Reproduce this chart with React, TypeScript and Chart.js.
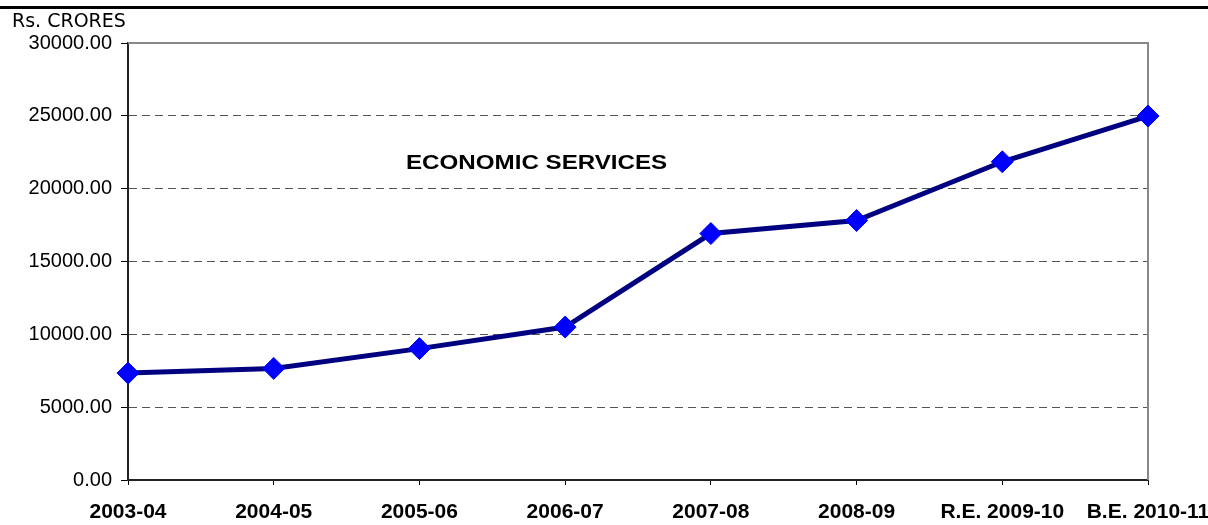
import React, { useEffect, useRef } from "react";
import { Chart, registerables } from "chart.js";

Chart.register(...registerables);

const categories: string[] = [
  "2003-04",
  "2004-05",
  "2005-06",
  "2006-07",
  "2007-08",
  "2008-09",
  "R.E. 2009-10",
  "B.E. 2010-11",
];

const economicServices: number[] = [7340, 7660, 9020, 10500, 16920, 17815, 21845, 24985];

const yMin = 0;
const yMax = 30000;
const yStep = 5000;

const titleText = "ECONOMIC SERVICES";
const unitText = "Rs. CRORES";

const decorPlugin = {
  id: "decor",
  beforeDatasetsDraw(chart: any) {
    const { ctx, chartArea } = chart;
    ctx.save();
    ctx.strokeStyle = "#888888";
    ctx.lineWidth = 2;
    ctx.beginPath();
    ctx.moveTo(chartArea.left, chartArea.top);
    ctx.lineTo(chartArea.right, chartArea.top);
    ctx.lineTo(chartArea.right, chartArea.bottom);
    ctx.stroke();
    ctx.restore();
  },
  afterDraw(chart: any) {
    const { ctx } = chart;
    ctx.save();
    ctx.fillStyle = "#000000";
    ctx.fillRect(0, 6, chart.width, 3);
    ctx.font = '19px "DejaVu Sans", sans-serif';
    ctx.textAlign = "left";
    ctx.textBaseline = "alphabetic";
    ctx.fillText(unitText, 12, 27);
    ctx.translate(406, 169);
    ctx.scale(1.15, 1);
    ctx.font = 'bold 21px "Liberation Sans", Arial, sans-serif';
    ctx.fillText(titleText, 0, 0);
    ctx.restore();
  },
};

export default function App() {
  const ref = useRef<HTMLCanvasElement | null>(null);

  useEffect(() => {
    if (!ref.current) return;
    const chart = new Chart(ref.current, {
      type: "line",
      data: {
        labels: categories,
        datasets: [
          {
            label: titleText,
            data: economicServices,
            borderColor: "#000080",
            borderWidth: 5,
            tension: 0,
            pointStyle: "rectRot",
            pointRadius: 11,
            pointHoverRadius: 11,
            pointBackgroundColor: "#0000FF",
            pointBorderColor: "#0000FF",
            pointBorderWidth: 1,
            clip: false as any,
          },
        ],
      },
      options: {
        animation: false,
        responsive: false,
        devicePixelRatio: 1,
        layout: { padding: { top: 43, right: 60, bottom: 0, left: 0 } },
        plugins: {
          legend: { display: false },
          tooltip: { enabled: false },
          title: { display: false },
        },
        scales: {
          x: {
            type: "category",
            offset: false,
            grid: {
              display: true,
              drawOnChartArea: false,
              drawTicks: true,
              tickLength: 5,
              tickColor: "#000000",
              color: "#000000",
            },
            border: { display: true, color: "#222222", width: 2 },
            ticks: {
              autoSkip: false,
              maxRotation: 0,
              minRotation: 0,
              padding: 15,
              color: "#000000",
              font: { family: '"Liberation Sans", Arial, sans-serif', size: 21, weight: "bold" },
            },
            afterFit: (s: any) => {
              s.paddingLeft = 0;
              s.paddingRight = 0;
              s.height = 45;
            },
          },
          y: {
            min: yMin,
            max: yMax,
            grid: {
              color: (c: any) =>
                c.tick && (c.tick.value === yMin || c.tick.value === yMax) ? "rgba(0,0,0,0)" : "#555555",
              lineWidth: 1,
              tickLength: 7,
              tickColor: "#000000",
            },
            border: { display: true, color: "#222222", width: 2, dash: [8, 5] },
            ticks: {
              stepSize: yStep,
              padding: 9,
              color: "#000000",
              font: { family: '"Liberation Sans", Arial, sans-serif', size: 20 },
              callback: (v: any) => Number(v).toFixed(2),
            },
            afterFit: (s: any) => {
              s.width = 128;
            },
          },
        },
      },
      plugins: [decorPlugin],
    });
    return () => chart.destroy();
  }, []);

  return (
    <div style={{ position: "absolute", left: 0, top: 0, width: 1208, height: 525, overflow: "hidden", background: "#fff" }}>
      <canvas ref={ref} width={1208} height={525} style={{ display: "block" }} />
    </div>
  );
}
